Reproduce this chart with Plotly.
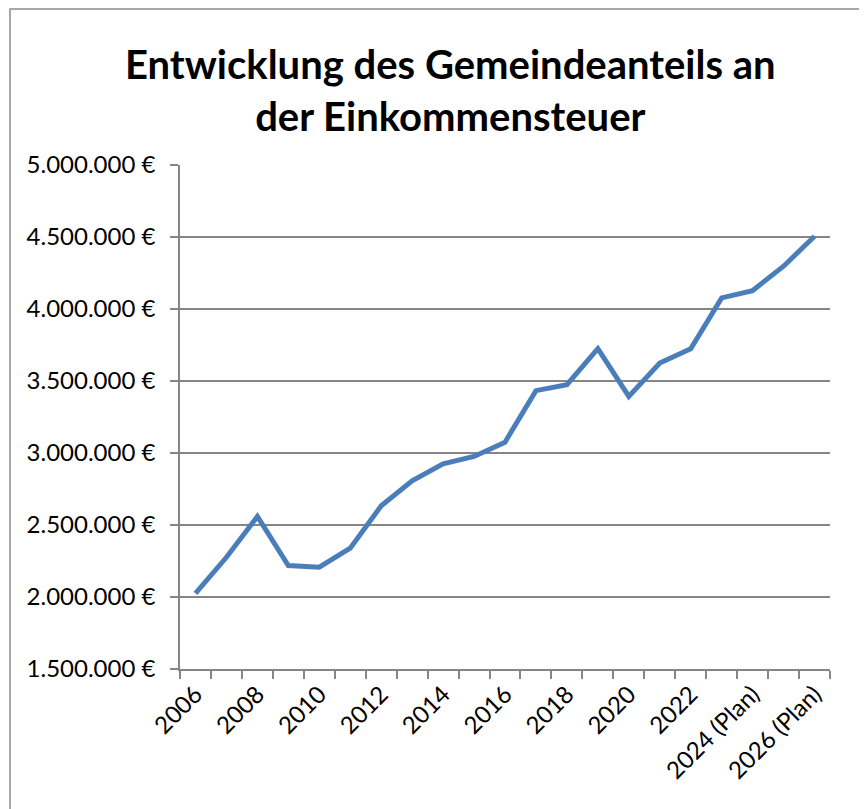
import plotly.graph_objects as go

categories = [
    "2006", "2007", "2008", "2009", "2010", "2011", "2012", "2013", "2014",
    "2015", "2016", "2017", "2018", "2019", "2020", "2021", "2022", "2023",
    "2024 (Plan)", "2025 (Plan)", "2026 (Plan)",
]
values = [
    2026000, 2276000, 2559000, 2218000, 2207000, 2339000, 2633000, 2807000,
    2925000, 2976000, 3075000, 3433000, 3474000, 3724000, 3393000, 3625000,
    3724000, 4077000, 4128000, 4297000, 4505000,
]
tick_labels = [c if i % 2 == 0 else "" for i, c in enumerate(categories)]
title_text = "Entwicklung des Gemeindeanteils an<br>der Einkommensteuer"

# page offset (body margin) compensation
OFF = 8
W, H = 867 - OFF, 809 - OFF
# plot area in page pixels
X0, X1, Y0, Y1 = 180, 830, 165, 669
L, R, T, B = X0 - OFF, 867 - X1, Y0 - OFF, 809 - Y1

def px(x):
    return (x - X0) / (X1 - X0)

def py(y):
    return (Y1 - y) / (Y1 - Y0)

FONT = "Lato"
GRID = "#858585"

fig = go.Figure()
fig.add_trace(go.Scatter(
    x=categories, y=values, mode="lines",
    line=dict(color="#4a7ebb", width=5),
    showlegend=False,
))

fig.update_layout(
    width=W, height=H,
    margin=dict(l=L, r=R, t=T, b=B, autoexpand=False),
    paper_bgcolor="white", plot_bgcolor="white",
    font=dict(family=FONT, color="black"),
    separators=",.",
    xaxis=dict(
        type="category",
        range=[-0.5, len(categories) - 0.5],
        tickmode="array", tickvals=categories, ticktext=tick_labels,
        tickson="boundaries", ticks="outside", ticklen=8, tickwidth=1.5,
        tickcolor=GRID, tickangle=-45,
        tickfont=dict(family=FONT, size=24, color="black"),
        showline=True, linecolor=GRID, linewidth=1.5,
        showgrid=False, zeroline=False,
    ),
    yaxis=dict(
        range=[1500000, 5000000], dtick=500000, tick0=1500000,
        tickformat=",.0f", ticksuffix=" €",
        ticks="outside", ticklen=8, tickwidth=1.5, tickcolor=GRID,
        ticklabelstandoff=10,
        tickfont=dict(family=FONT, size=24, color="black"),
        showline=True, linecolor=GRID, linewidth=1.5,
        showgrid=True, gridcolor=GRID, gridwidth=1.5,
        zeroline=False,
    ),
    annotations=[dict(
        text="<b>" + title_text + "</b>",
        xref="paper", yref="paper",
        x=px(450), y=py(90), xanchor="center", yanchor="middle",
        showarrow=False, align="center",
        font=dict(family=FONT, size=40, color="black"),
    )],
    shapes=[dict(
        type="rect", xref="paper", yref="paper",
        x0=px(10), x1=px(861), y0=py(830), y1=py(9),
        line=dict(color="#8c8c8c", width=1.5), fillcolor="rgba(0,0,0,0)",
        layer="below",
    )],
)

fig.write_html("out.html")
